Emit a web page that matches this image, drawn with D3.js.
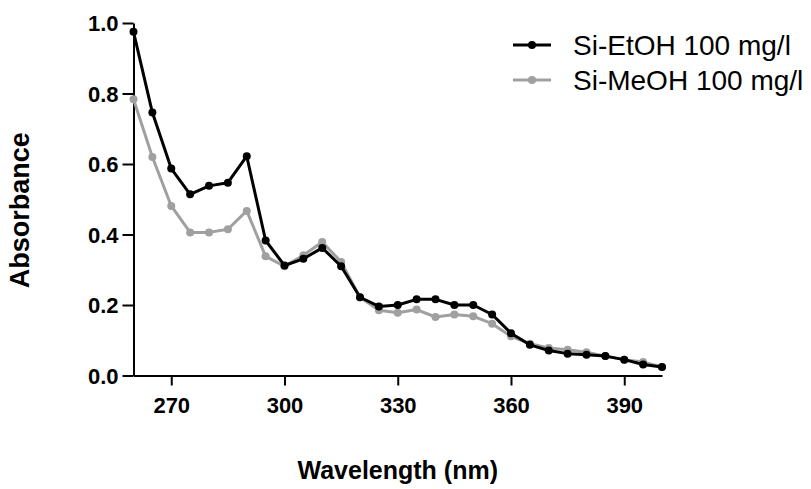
<!DOCTYPE html>
<html>
<head>
<meta charset="utf-8">
<script src="https://cdn.jsdelivr.net/npm/d3@7"></script>
<style>
  html, body { margin: 0; padding: 0; background: #fff; }
  svg { display: block; }
  text { font-family: Arial, "Liberation Sans", Helvetica, sans-serif; }
</style>
</head>
<body>
<svg id="chart" width="811" height="489"></svg>
<script>
// UV-Vis absorbance spectra, sampled every 5 nm
const wavelengths = [260,265,270,275,280,285,290,295,300,305,310,315,320,325,330,335,340,345,350,355,360,365,370,375,380,385,390,395,400];
const etohValues = [0.975,0.746,0.587,0.514,0.538,0.547,0.622,0.383,0.312,0.331,0.362,0.310,0.222,0.196,0.200,0.216,0.216,0.200,0.200,0.173,0.120,0.087,0.071,0.062,0.059,0.055,0.045,0.031,0.024];
const meohValues = [0.784,0.620,0.481,0.406,0.406,0.415,0.467,0.338,0.310,0.341,0.379,0.322,0.222,0.185,0.178,0.187,0.166,0.173,0.168,0.147,0.111,0.090,0.078,0.073,0.066,0.055,0.045,0.038,0.024];
const seriesNames = ["Si-EtOH 100 mg/l", "Si-MeOH 100 mg/l"];
const seriesColors = ["#000000", "#a0a0a0"];
const xTicks = [270, 300, 330, 360, 390];
const yTicks = [0.0, 0.2, 0.4, 0.6, 0.8, 1.0];

const svg = d3.select("#chart");
const x = d3.scaleLinear().domain([260, 400]).range([133.5, 662]);
const y = d3.scaleLinear().domain([0, 1]).range([375.5, 23]);

// axes
const xAxis = svg.append("g")
  .attr("transform", `translate(0,${y(0)})`)
  .call(d3.axisBottom(x).tickValues(xTicks).tickFormat(d3.format("d")).tickSize(10).tickPadding(7).tickSizeOuter(0));
const yAxis = svg.append("g")
  .attr("transform", `translate(${x(260)},0)`)
  .call(d3.axisLeft(y).tickValues(yTicks).tickFormat(d3.format(".1f")).tickSize(11).tickPadding(4).tickSizeOuter(0));

[xAxis, yAxis].forEach(g => {
  g.select(".domain").attr("stroke", "#000").attr("stroke-width", 2);
  g.selectAll(".tick line").attr("stroke", "#000").attr("stroke-width", 2);
  g.selectAll(".tick text")
    .attr("fill", "#000")
    .style("font-size", "22px")
    .style("font-weight", "bold")
    .style("font-family", "Arial, 'Liberation Sans', sans-serif");
});
xAxis.selectAll(".tick text").attr("dy", "0.95em");
yAxis.selectAll(".tick text").attr("dy", "0.36em");

// axis titles
svg.append("text")
  .attr("x", (x(260) + x(400)) / 2)
  .attr("y", 479)
  .attr("text-anchor", "middle")
  .style("font-size", "25px")
  .style("font-weight", "bold")
  .text("Wavelength (nm)");
svg.append("text")
  .attr("transform", `translate(29,${(y(0) + y(1)) / 2 + 11}) rotate(-90)`)
  .attr("text-anchor", "middle")
  .style("font-size", "27px")
  .style("font-weight", "bold")
  .text("Absorbance");

// spectra: MeOH drawn first so EtOH sits on top where they overlap
const series = [
  { name: seriesNames[1], color: seriesColors[1], values: meohValues },
  { name: seriesNames[0], color: seriesColors[0], values: etohValues }
];
const line = d3.line().x(d => x(d[0])).y(d => y(d[1]));
series.forEach(s => {
  const pts = wavelengths.map((w, i) => [w, s.values[i]]);
  svg.append("path")
    .datum(pts)
    .attr("fill", "none")
    .attr("stroke", s.color)
    .attr("stroke-width", 3)
    .attr("stroke-linejoin", "round")
    .attr("d", line);
  svg.append("g").selectAll("circle")
    .data(pts)
    .join("circle")
    .attr("cx", d => x(d[0]))
    .attr("cy", d => y(d[1]))
    .attr("r", 4)
    .attr("fill", s.color);
});

// legend
const legend = svg.append("g");
seriesNames.forEach((name, i) => {
  const ly = 45 + i * 35;
  legend.append("line")
    .attr("x1", 513).attr("x2", 551).attr("y1", ly).attr("y2", ly)
    .attr("stroke", seriesColors[i]).attr("stroke-width", 3);
  legend.append("circle")
    .attr("cx", 532).attr("cy", ly).attr("r", 4).attr("fill", seriesColors[i]);
  legend.append("text")
    .attr("x", 573).attr("y", ly)
    .attr("dy", "0.36em")
    .style("font-size", "28px")
    .text(name);
});
</script>
</body>
</html>
